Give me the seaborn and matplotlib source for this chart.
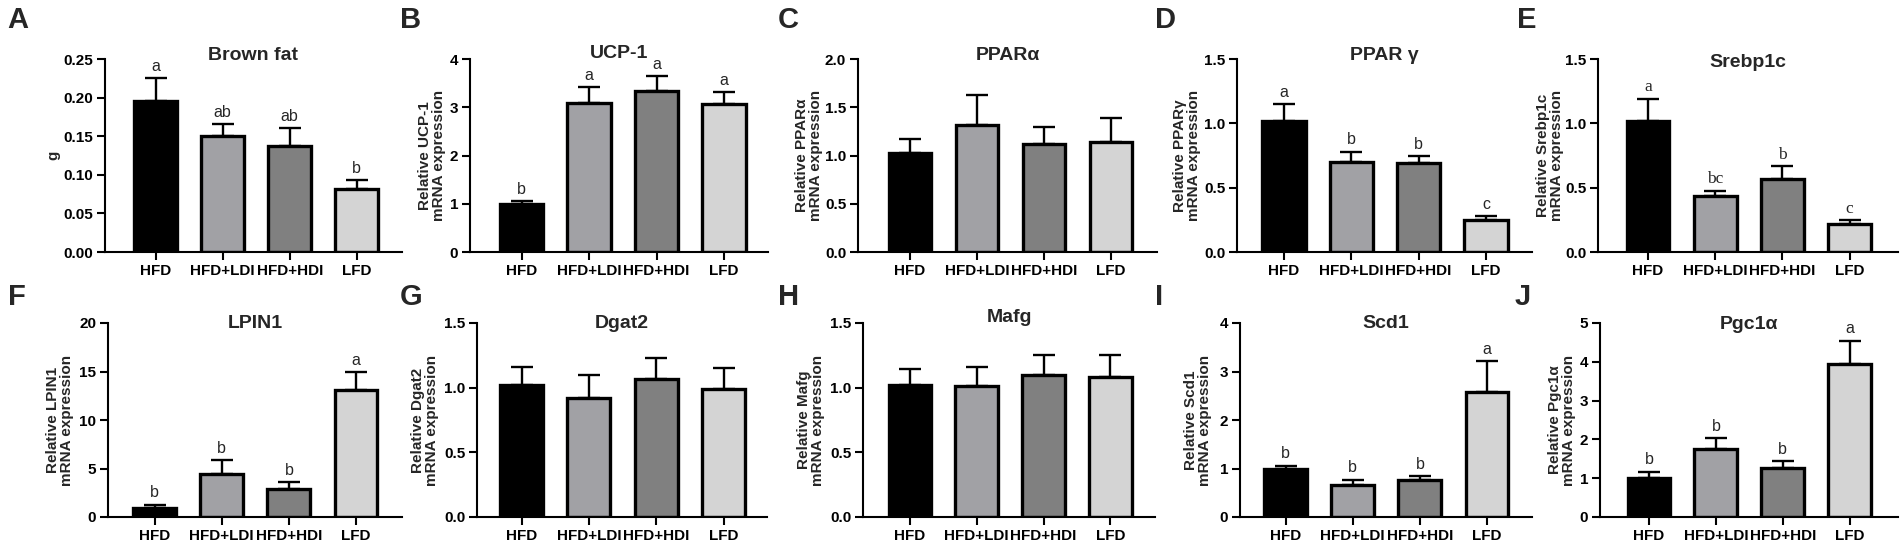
import matplotlib
matplotlib.use("Agg")
import matplotlib.pyplot as plt
import seaborn as sns
import pandas as pd
import numpy as np

# ---------------- data ----------------
groups = ["HFD", "HFD+LDI", "HFD+HDI", "LFD"]
bar_colors = ["#000000", "#a1a1a5", "#808080", "#d4d4d4"]

brown_fat_mean = [0.195, 0.150, 0.137, 0.081]
brown_fat_sem = [0.030, 0.016, 0.024, 0.012]
brown_fat_letters = ["a", "ab", "ab", "b"]

ucp1_mean = [1.00, 3.08, 3.33, 3.07]
ucp1_sem = [0.06, 0.34, 0.32, 0.25]
ucp1_letters = ["b", "a", "a", "a"]

ppara_mean = [1.03, 1.32, 1.115, 1.135]
ppara_sem = [0.14, 0.31, 0.185, 0.25]

pparg_mean = [1.02, 0.70, 0.69, 0.245]
pparg_sem = [0.13, 0.08, 0.055, 0.035]
pparg_letters = ["a", "b", "b", "c"]

srebp_mean = [1.02, 0.435, 0.57, 0.215]
srebp_sem = [0.17, 0.042, 0.095, 0.03]
srebp_letters = ["a", "bc", "b", "c"]

lpin_mean = [0.97, 4.41, 2.86, 13.1]
lpin_sem = [0.31, 1.45, 0.73, 1.83]
lpin_letters = ["b", "b", "b", "a"]

dgat_mean = [1.02, 0.92, 1.065, 0.99]
dgat_sem = [0.14, 0.18, 0.165, 0.165]

mafg_mean = [1.02, 1.01, 1.10, 1.085]
mafg_sem = [0.125, 0.147, 0.155, 0.165]

scd_mean = [0.99, 0.67, 0.76, 2.58]
scd_sem = [0.07, 0.10, 0.09, 0.64]
scd_letters = ["b", "b", "b", "a"]

pgc_mean = [1.01, 1.75, 1.27, 3.95]
pgc_sem = [0.16, 0.275, 0.18, 0.595]
pgc_letters = ["b", "b", "b", "a"]

panel_letters = ["A", "B", "C", "D", "E", "F", "G", "H", "I", "J"]
titles = ["Brown fat", "UCP-1", "PPARα", "PPAR γ", "Srebp1c",
          "LPIN1", "Dgat2", "Mafg", "Scd1", "Pgc1α"]
ylabels = ["g", "Relative UCP-1\nmRNA expression", "Relative PPARα\nmRNA expression",
           "Relative PPARγ\nmRNA expression", "Relative Srebp1c\nmRNA expression",
           "Relative LPIN1\nmRNA expression", "Relative Dgat2\nmRNA expression",
           "Relative Mafg\nmRNA expression", "Relative Scd1\nmRNA expression",
           "Relative Pgc1α\nmRNA expression"]
yticks_list = [[0.00, 0.05, 0.10, 0.15, 0.20, 0.25], [0, 1, 2, 3, 4],
               [0.0, 0.5, 1.0, 1.5, 2.0], [0.0, 0.5, 1.0, 1.5], [0.0, 0.5, 1.0, 1.5],
               [0, 5, 10, 15, 20], [0.0, 0.5, 1.0, 1.5], [0.0, 0.5, 1.0, 1.5],
               [0, 1, 2, 3, 4], [0, 1, 2, 3, 4, 5]]
ytick_fmt = ["{:.2f}", "{:.0f}", "{:.1f}", "{:.1f}", "{:.1f}",
             "{:.0f}", "{:.1f}", "{:.1f}", "{:.0f}", "{:.0f}"]

means = [brown_fat_mean, ucp1_mean, ppara_mean, pparg_mean, srebp_mean,
         lpin_mean, dgat_mean, mafg_mean, scd_mean, pgc_mean]
sems = [brown_fat_sem, ucp1_sem, ppara_sem, pparg_sem, srebp_sem,
        lpin_sem, dgat_sem, mafg_sem, scd_sem, pgc_sem]
letters = [brown_fat_letters, ucp1_letters, None, pparg_letters, srebp_letters,
           lpin_letters, None, None, scd_letters, pgc_letters]

# ---------------- layout (pixels) ----------------
W, H = 1902, 547
# axis_left, first_center, last_center, axis_right, top, bottom
layout = [
    (105, 155.7, 356.7, 402, 59, 252),
    (470, 521.5, 724.0, 768, 59, 252),
    (858, 910.0, 1111.0, 1157, 59, 252),
    (1237, 1284.0, 1486.0, 1532, 59, 252),
    (1598, 1648.0, 1849.5, 1898, 59, 252),
    (108, 154.7, 356.0, 402, 323, 517),
    (477, 521.5, 723.5, 767, 323, 517),
    (863, 910.0, 1110.3, 1155, 323, 517),
    (1240, 1285.7, 1487.0, 1532, 323, 517),
    (1600, 1649.0, 1849.7, 1898, 323, 517),
]
ylabel_offset_px = [-52, -38, -49, -50, -48, -48, -52, -52, -42, -38]
title_y = [1.02, 1.03, 1.02, 1.02, 0.98, 1.0, 1.0, 1.026, 1.0, 0.99]
letter_pos = [(7, 20), (400, 20), (778, 20), (1155, 20), (1517, 20),
              (8, 297), (400, 297), (778, 297), (1155, 297), (1515, 297)]

sns.set_style("ticks")
plt.rcParams["font.family"] = ["Liberation Sans", "DejaVu Sans"]
plt.rcParams["axes.linewidth"] = 1.5

fig = plt.figure(figsize=(W / 100, H / 100), dpi=100)

for k in range(10):
    left, c0, c3, right, top, bottom = layout[k]
    ax = fig.add_axes([left / W, 1 - bottom / H, (right - left) / W, (bottom - top) / H])
    sp = (c3 - c0) / 3.0
    df = pd.DataFrame({"group": groups, "value": means[k]})
    sns.barplot(data=df, x="group", y="value", hue="group", palette=bar_colors,
                order=groups, hue_order=groups, width=0.64, errorbar=None,
                edgecolor="black", linewidth=2.4, legend=False, ax=ax, zorder=2)
    x = np.arange(4)
    ax.errorbar(x, means[k], yerr=[np.zeros(4), sems[k]], fmt="none", ecolor="black",
                elinewidth=1.7, capsize=8, capthick=1.7, zorder=1)
    ax.set_xlim(-(c0 - left) / sp, 3 + (right - c3) / sp)
    yt = yticks_list[k]
    ax.set_ylim(0, yt[-1])
    ax.set_yticks(yt)
    ax.set_yticklabels([ytick_fmt[k].format(v) for v in yt], fontweight="bold", fontsize=11)
    ax.set_xticks(x)
    ax.set_xticklabels(groups, fontweight="bold", fontsize=11)
    ax.set_xlabel("")
    ax.set_ylabel(ylabels[k], fontweight="bold", fontsize=11, linespacing=1.0)
    ax.yaxis.label.set_va("center")
    ax.yaxis.set_label_coords(ylabel_offset_px[k] / (right - left), 0.5)
    ax.tick_params(axis="both", direction="out", length=5.5, width=1.5, pad=3, colors="black")
    for s in ["top", "right"]:
        ax.spines[s].set_visible(False)
    for s in ["left", "bottom"]:
        ax.spines[s].set_linewidth(1.5)
        ax.spines[s].set_color("black")
    ax.text(0.5, title_y[k], titles[k], transform=ax.transAxes, ha="center", va="center",
            fontweight="bold", fontsize=14)
    if letters[k] is not None:
        for i in range(4):
            if k == 4:
                ax.annotate(letters[k][i], (i, means[k][i] + sems[k][i]), xytext=(0, 2.5),
                            textcoords="offset points", ha="center", va="bottom",
                            fontsize=12.5, family="Liberation Serif")
            else:
                ax.annotate(letters[k][i], (i, means[k][i] + sems[k][i]), xytext=(0, 3),
                            textcoords="offset points", ha="center", va="bottom",
                            fontsize=11.5)
    fig.text(letter_pos[k][0] / W, 1 - letter_pos[k][1] / H, panel_letters[k],
             ha="left", va="center", fontweight="bold", fontsize=21)

fig.savefig("out.png", dpi=100)
